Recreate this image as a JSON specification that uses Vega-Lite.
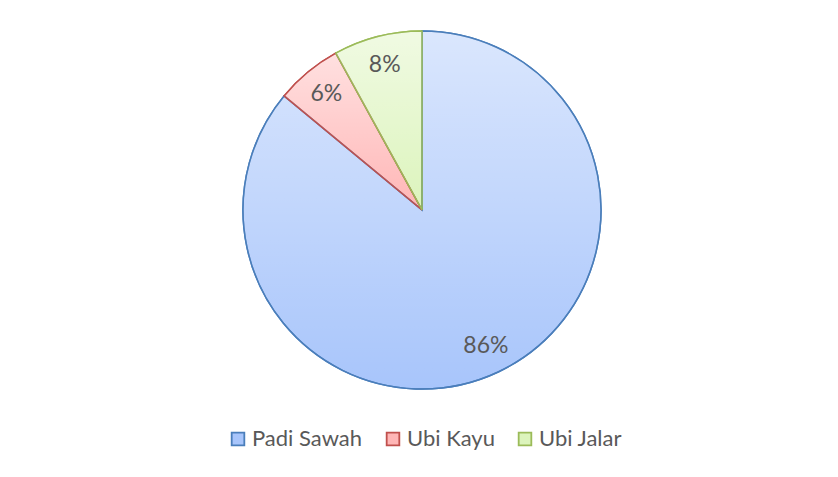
{
  "$schema": "https://vega.github.io/schema/vega-lite/v6.json",
  "width": 834,
  "height": 420,
  "autosize": {"type": "none"},
  "padding": {"left": 5, "top": 0, "right": 0, "bottom": 57},
  "background": "white",
  "config": {"view": {"stroke": null}},
  "data": {
    "values": [
      {"komoditas": "Padi Sawah", "persen": 0.86, "urut": 1},
      {"komoditas": "Ubi Kayu", "persen": 0.06, "urut": 2},
      {"komoditas": "Ubi Jalar", "persen": 0.08, "urut": 3}
    ]
  },
  "encoding": {
    "theta": {"field": "persen", "type": "quantitative", "stack": true},
    "order": {"field": "urut", "type": "ordinal"}
  },
  "layer": [
    {
      "mark": {"type": "arc", "radius": 179, "strokeWidth": 1.5},
      "encoding": {
        "fill": {
          "field": "komoditas",
          "type": "nominal",
          "scale": {"domain": ["Padi Sawah", "Ubi Kayu", "Ubi Jalar"], "range": ["#a8c5fb", "#ffb6b6", "#dcf4bc"]},
          "legend": {
            "orient": "none", "legendX": 222, "legendY": 428, "direction": "horizontal", "columns": 3,
            "title": null, "labelFont": "Lato", "labelFontSize": 22, "labelColor": "#595959",
            "symbolType": "square", "symbolSize": 160, "symbolStrokeWidth": 1.8,
            "columnPadding": 19, "labelOffset": 3
          }
        },
        "stroke": {
          "field": "komoditas",
          "type": "nominal",
          "scale": {"domain": ["Padi Sawah", "Ubi Kayu", "Ubi Jalar"], "range": ["#4a7ebb", "#c0504d", "#9bbb59"]},
          "legend": {
            "orient": "none", "legendX": 222, "legendY": 428, "direction": "horizontal", "columns": 3,
            "title": null, "labelFont": "Lato", "labelFontSize": 22, "labelColor": "#595959",
            "symbolType": "square", "symbolSize": 160, "symbolStrokeWidth": 1.8,
            "columnPadding": 19, "labelOffset": 3
          }
        }
      }
    },
    {
      "mark": {
        "type": "arc", "radius": 179, "strokeWidth": 1.5,
        "fill": {
          "gradient": "linear", "x1": 0, "y1": 0, "x2": 0, "y2": 1,
          "stops": [
            {"offset": 0, "color": "rgba(255,255,255,0.58)"},
            {"offset": 1, "color": "rgba(255,255,255,0)"}
          ]
        }
      },
      "encoding": {
        "stroke": {"field": "komoditas", "type": "nominal"}
      }
    },
    {
      "mark": {"type": "text", "radius": 150, "font": "Lato", "fontSize": 23, "fill": "#595959"},
      "encoding": {
        "text": {"field": "persen", "type": "quantitative", "format": ".0%"}
      }
    }
  ]
}
